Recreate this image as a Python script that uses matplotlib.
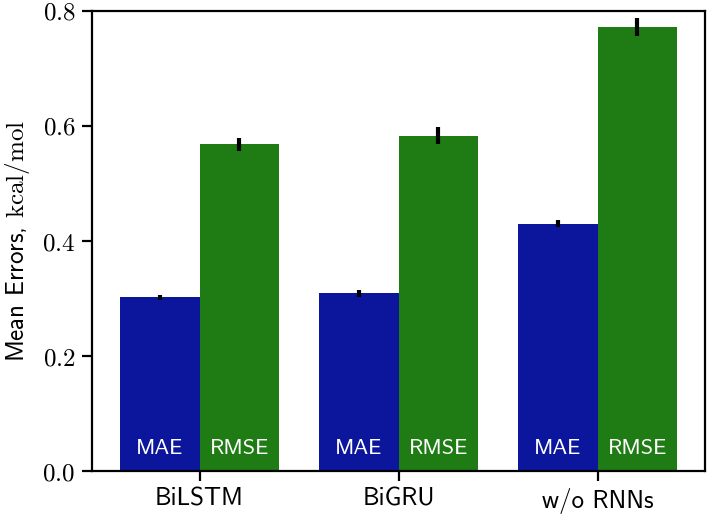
import matplotlib
matplotlib.use('Agg')
import matplotlib.pyplot as plt
import numpy as np

plt.rcParams['mathtext.fontset'] = 'cm'
plt.rcParams['font.family'] = ['cmss10', 'DejaVu Sans']
plt.rcParams['axes.unicode_minus'] = False

# data
models = ['BiLSTM', 'BiGRU', 'w/o RNNs']
mae = [0.302, 0.309, 0.430]
mae_err = [0.004, 0.006, 0.006]
rmse = [0.568, 0.583, 0.772]
rmse_err = [0.011, 0.015, 0.015]

COL_MAE = '#0b169c'
COL_RMSE = '#1f7b14'

fig = plt.figure(figsize=(7.08, 5.19), dpi=100)
ax = fig.add_axes([0.130, 0.092, 0.866, 0.887])

x = np.arange(len(models))
w = 0.4
ax.bar(x - w/2, mae, w, color=COL_MAE, yerr=mae_err,
       error_kw=dict(ecolor='black', elinewidth=3, capsize=0))
ax.bar(x + w/2, rmse, w, color=COL_RMSE, yerr=rmse_err,
       error_kw=dict(ecolor='black', elinewidth=3, capsize=0))

# in-bar labels
for xi in x:
    ax.text(xi - w/2, 0.03, 'MAE', ha='center', va='baseline',
            color='white', fontsize=16)
    ax.text(xi + w/2, 0.03, 'RMSE', ha='center', va='baseline',
            color='white', fontsize=16)

ax.set_ylim(0, 0.8)
yt = [0.0, 0.2, 0.4, 0.6, 0.8]
ax.set_yticks(yt)
ax.set_yticklabels(['$%.1f$' % v for v in yt], fontsize=18)
ax.set_xticks(x)
ax.set_xticklabels(models, fontsize=18)
ax.set_ylabel(r'Mean Errors, $\mathrm{kcal/mol}$', fontsize=18, labelpad=7)

for sp in ax.spines.values():
    sp.set_linewidth(1.6)
ax.tick_params(width=1.6, length=7, pad=5)

fig.savefig('out.png', dpi=100)
